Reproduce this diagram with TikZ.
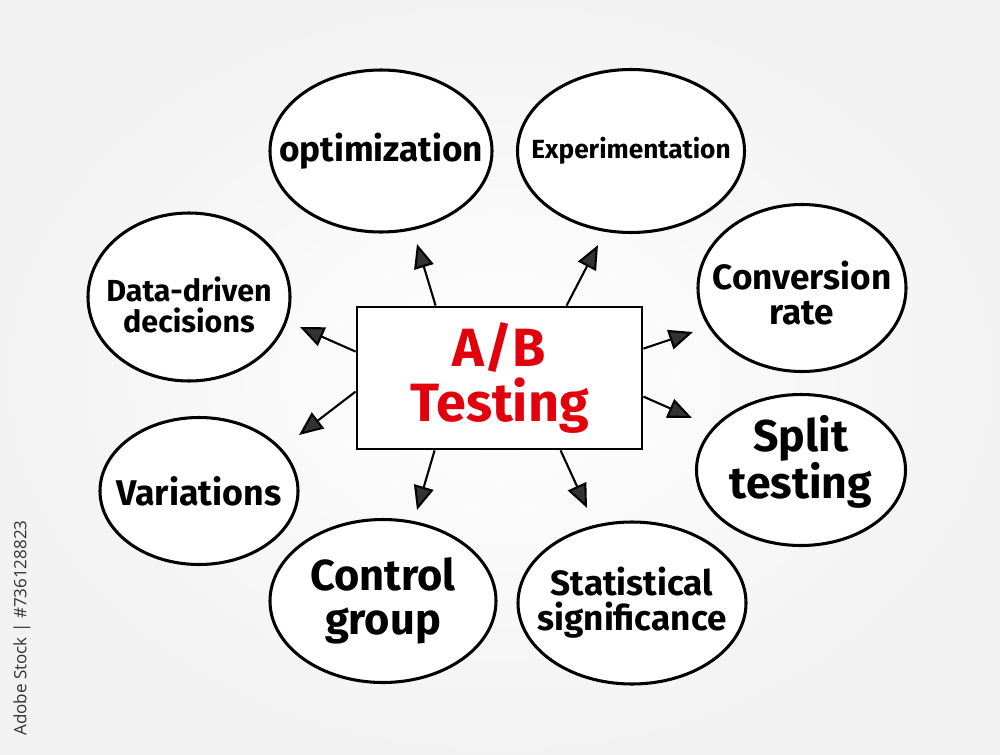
\documentclass[tikz,border=0pt]{standalone}
\usepackage{fontspec}
\setmainfont{Fira Sans}
\newfontfamily\stockfont{Open Sans}
\usetikzlibrary{shapes.geometric,arrows.meta}
\definecolor{abred}{RGB}{226,0,12}
\definecolor{stockgray}{RGB}{50,50,50}
\begin{document}
\begin{tikzpicture}[x=0.03cm,y=-0.03cm,
  bubble/.style={draw=black, line width=2.6pt, ellipse, inner sep=0pt, fill=white},
  hubbox/.style={draw=black, line width=2.4pt, rectangle, inner sep=0pt,
    minimum width=8.55cm, minimum height=4.26cm, fill=white},
  spoke/.style={line width=1.8pt, -{Triangle[length=0.72cm,width=0.6cm,fill=black!80]}},
  lbl/.style={align=center, text=black, inner sep=0pt, font=\bfseries\fontsize{#1}{#1}\selectfont}
]
% background
\shade[inner color=white, outer color=black!5] (0,0) rectangle (1000,755);
\useasboundingbox (0,0) rectangle (1000,755);

% side caption
\node[rotate=90, text=stockgray, font=\stockfont\fontsize{14.5}{16}\selectfont] (stock) at (22,628) {Adobe Stock | \#736128823};

% central box
\node[hubbox] (hub) at (499.5,378) {};
\node[text=abred, align=center, inner sep=0pt, font=\bfseries\fontsize{46}{47}\selectfont] (hubtext) at (hub.center) {A/B\\Testing};

% bubbles (outlines)
\node[bubble, minimum width=6.66cm, minimum height=4.86cm] (opt) at (381,151) {};
\node[bubble, minimum width=6.81cm, minimum height=4.89cm] (exp) at (631,151) {};
\node[bubble, minimum width=6.24cm, minimum height=5.01cm] (conv) at (802,288) {};
\node[bubble, minimum width=6.27cm, minimum height=4.53cm] (split) at (801,470) {};
\node[bubble, minimum width=6.84cm, minimum height=4.86cm] (stat) at (632,603) {};
\node[bubble, minimum width=6.78cm, minimum height=4.89cm] (ctrl) at (383,601) {};
\node[bubble, minimum width=5.94cm, minimum height=4.41cm] (var) at (199,491) {};
\node[bubble, minimum width=6.06cm, minimum height=5.04cm] (data) at (189,297) {};

% bubble labels
\node[lbl=30] (optL) at (opt.center) {optimization};
\node[lbl=22.4] (expL) at (exp.center) {Experimentation};
\node[lbl=30] (convL) at ([yshift=-0.15cm]conv.center) {Conversion\\rate};
\node[lbl=38] (splitL) at ([yshift=0.24cm]split.center) {Split\\testing};
\node[lbl=30] (statL) at (stat.center) {Statistical\\significance};
\node[lbl=37] (ctrlL) at (ctrl.center) {Control\\group};
\node[lbl=30.5] (varL) at (var.center) {Variations};
\node[lbl=26] (dataL) at ([yshift=-0.24cm]data.center) {Data-driven\\decisions};

% arrow tip coordinates
\coordinate (tUL) at (417,244);
\coordinate (tUR) at (598,245);
\coordinate (tLU) at (300,327);
\coordinate (tLD) at (299,435);
\coordinate (tRU) at (693,332);
\coordinate (tRD) at (692,418);
\coordinate (tDL) at (417,510);
\coordinate (tDR) at (587,508);

% arrows
\draw[spoke] (hub.north west) ++(80,0) -- (tUL);
\draw[spoke] (hub.north west) ++(211,0) -- (tUR);
\draw[spoke] (hub.north west) ++(0,46) -- (tLU);
\draw[spoke] (hub.north west) ++(0,86) -- (tLD);
\draw[spoke] (hub.north east) ++(0,43) -- (tRU);
\draw[spoke] (hub.north east) ++(0,91) -- (tRD);
\draw[spoke] (hub.south west) ++(79,0) -- (tDL);
\draw[spoke] (hub.south west) ++(205,0) -- (tDR);
\end{tikzpicture}
\end{document}
